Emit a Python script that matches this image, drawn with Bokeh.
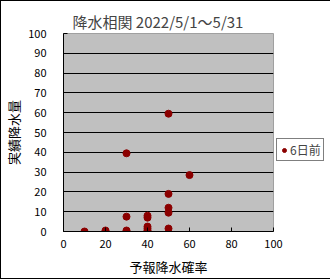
from bokeh.plotting import figure
from bokeh.models import Legend, LegendItem, FixedTicker, Range1d
from bokeh.embed import file_html
from bokeh.resources import INLINE

title_text = "降水相関 2022/5/1～5/31"
x_label = "予報降水確率"
y_label = "実績降水量"
series_name = "6日前"

forecast_prob = [10, 20, 20, 30, 30, 30, 30, 40, 40, 40, 40, 40, 40, 50, 50, 50, 50, 50, 60]
actual_rain = [0, 0, 0.5, 0, 0.5, 7.5, 39.5, 0, 0.5, 1.5, 2.5, 7, 8, 1.5, 9.5, 12, 19, 59.5, 28.5]

x_ticks = [0, 20, 40, 60, 80, 100]
y_ticks = [0, 10, 20, 30, 40, 50, 60, 70, 80, 90, 100]

FONT = "Noto Sans CJK JP"

p = figure(frame_width=210, frame_height=198, output_backend="svg", toolbar_location=None,
           x_range=Range1d(0, 100), y_range=Range1d(0, 100),
           min_border_left=58, min_border_right=2, min_border_top=32, min_border_bottom=46)
p.styles = {"border": "1px solid black"}

p.title.text = title_text
p.title.text_font = FONT
p.title.text_font_size = "15px"
p.title.text_font_style = "normal"
p.title.align = "left"
p.title.offset = 9
p.title.standoff = 4

p.background_fill_color = "#C0C0C0"
p.border_fill_color = "white"
p.outline_line_color = "#A0A0A0"

p.xgrid.grid_line_color = None
p.ygrid.grid_line_color = "black"
p.ygrid.grid_line_width = 1

for ax in (p.xaxis[0], p.yaxis[0]):
    ax.axis_line_color = "black"
    ax.major_tick_in = 4
    ax.major_tick_out = 0
    ax.minor_tick_line_color = None
    ax.major_tick_line_color = "black"
    ax.major_label_text_font = FONT
    ax.major_label_text_font_size = "11px"
    ax.major_label_text_color = "black"
    ax.axis_label_text_font = FONT
    ax.axis_label_text_font_size = "13px"
    ax.axis_label_text_font_style = "normal"
    ax.axis_label_text_color = "black"

p.xaxis.ticker = FixedTicker(ticks=x_ticks)
p.yaxis.ticker = FixedTicker(ticks=y_ticks)
p.xaxis.axis_label = x_label
p.yaxis.axis_label = y_label
p.xaxis.major_label_standoff = 8
p.yaxis.major_label_standoff = 17
p.xaxis.axis_label_standoff = 6
p.yaxis.axis_label_standoff = 2

r = p.scatter(forecast_prob, actual_rain, size=7, color="#8B0000")

legend = Legend(items=[LegendItem(label=series_name, renderers=[r])],
                location=(3, 70), orientation="vertical")
legend.border_line_color = "black"
legend.background_fill_color = "white"
legend.background_fill_alpha = 1
legend.label_text_font = FONT
legend.label_text_font_size = "12px"
legend.padding = 2
legend.margin = 0
legend.glyph_width = 10
legend.glyph_height = 12
legend.label_standoff = 1
legend.label_height = 12
p.add_layout(legend, "right")

open("out.html", "w").write(file_html(p, INLINE))
